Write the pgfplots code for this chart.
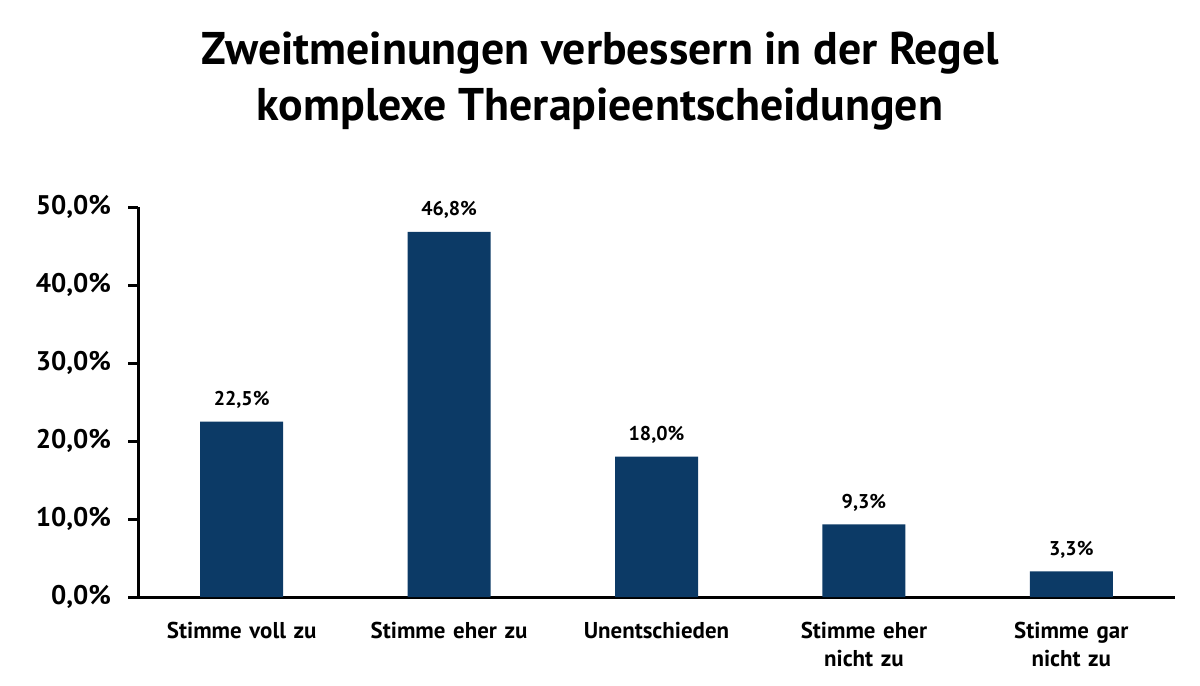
\documentclass[border=0pt]{standalone}
\usepackage{pgfplots}
\pgfplotsset{compat=1.18}
\usepackage{fontspec}
\setmainfont{PT Sans}
\definecolor{barblue}{RGB}{12,58,102}
\begin{document}
\begin{tikzpicture}[x=1bp,y=1bp]
\useasboundingbox (0,0) rectangle (600,342.5);
\node[font=\fontsize{23}{28}\selectfont\bfseries, align=center, anchor=north] at (300,330) {Zweitmeinungen verbessern in der Regel\\komplexe Therapieentscheidungen};
\begin{axis}[
  at={(69bp,44bp)}, anchor=south west,
  scale only axis, width=518.5bp, height=195bp,
  xmin=-0.5, xmax=4.5, ymin=0, ymax=50,
  axis lines=left, axis line style={line width=1.5bp, black, -},
  ytick={0,10,20,30,40,50},
  yticklabels={{0,0\%},{10,0\%},{20,0\%},{30,0\%},{40,0\%},{50,0\%}},
  yticklabel style={font=\fontsize{13.5}{16}\selectfont\bfseries, xshift=-5bp},
  ytick style={line width=1.5bp, black},
  tick align=outside, major tick length=5bp,
  xtick=data, xtick style={draw=none},
  xticklabels={{Stimme voll zu},{Stimme eher zu},{Unentschieden},{Stimme eher\\nicht zu},{Stimme gar\\nicht zu}},
  xticklabel style={font=\fontsize{11.5}{14}\selectfont\bfseries, align=center, text width=100bp, yshift=-4bp},
  ybar, bar width=41.5bp,
  /pgf/number format/assume math mode=true,
  nodes near coords={\pgfmathprintnumber[fixed,fixed zerofill,precision=1,use comma,assume math mode=true]{\pgfplotspointmeta}\%},
  nodes near coords style={font=\fontsize{10}{12}\selectfont\bfseries, anchor=south, yshift=3bp},
  clip=false,
]
\addplot[fill=barblue, draw=none] coordinates {(0,22.5) (1,46.8) (2,18.0) (3,9.3) (4,3.3)};
\end{axis}
\end{tikzpicture}
\end{document}
